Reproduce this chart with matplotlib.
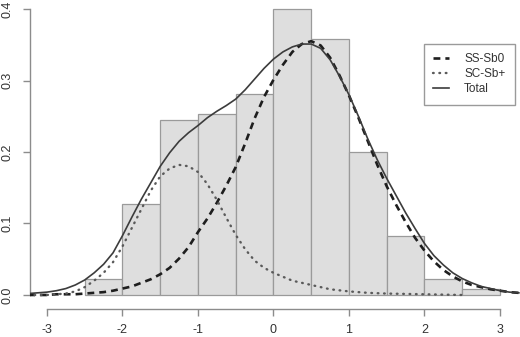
import numpy as np
import matplotlib
matplotlib.use("Agg")
import matplotlib.pyplot as plt

plt.rcParams['font.family'] = ['Liberation Sans', 'DejaVu Sans']

# histogram (bin left edges, width 0.5) -- density
bin_left = [-2.5, -2.0, -1.5, -1.0, -0.5, 0.0, 0.5, 1.0, 1.5, 2.0, 2.5]
bin_height = [0.022, 0.127, 0.245, 0.253, 0.281, 0.400, 0.358, 0.200, 0.083, 0.022, 0.008]

# curves, every 0.125
x_grid = [-3.25, -3.125, -3.0, -2.875, -2.75, -2.625, -2.5, -2.375, -2.25, -2.125,
          -2.0, -1.875, -1.75, -1.625, -1.5, -1.375, -1.25, -1.125, -1.0, -0.875,
          -0.75, -0.625, -0.5, -0.375, -0.25, -0.125, 0.0, 0.125, 0.25, 0.375,
          0.5, 0.625, 0.75, 0.875, 1.0, 1.125, 1.25, 1.375, 1.5, 1.625,
          1.75, 1.875, 2.0, 2.125, 2.25, 2.375, 2.5, 2.625, 2.75, 2.875,
          3.0, 3.125, 3.25]

y_total = [0.002, 0.003, 0.004, 0.006, 0.009, 0.014, 0.021, 0.031, 0.043, 0.059,
           0.083, 0.109, 0.134, 0.157, 0.180, 0.199, 0.215, 0.227, 0.237, 0.248,
           0.257, 0.265, 0.274, 0.287, 0.302, 0.317, 0.330, 0.340, 0.347, 0.351,
           0.351, 0.345, 0.329, 0.306, 0.280, 0.250, 0.218, 0.189, 0.163, 0.139,
           0.115, 0.093, 0.072, 0.055, 0.042, 0.031, 0.023, 0.017, 0.012, 0.009,
           0.006, 0.004, 0.003]

y_ss_sb0 = [0.000, 0.000, 0.000, 0.001, 0.001, 0.001, 0.002, 0.003, 0.004, 0.006,
            0.009, 0.012, 0.017, 0.022, 0.029, 0.038, 0.051, 0.067, 0.088, 0.107,
            0.129, 0.153, 0.179, 0.212, 0.247, 0.277, 0.301, 0.322, 0.340, 0.351,
            0.355, 0.349, 0.332, 0.307, 0.279, 0.248, 0.215, 0.182, 0.152, 0.126,
            0.102, 0.080, 0.062, 0.047, 0.035, 0.026, 0.019, 0.014, 0.011, 0.008,
            0.006, 0.004, 0.003]

x_sc = [-3.25, -3.125, -3.0, -2.875, -2.75, -2.625, -2.5, -2.375, -2.25, -2.125,
        -2.0, -1.875, -1.75, -1.625, -1.5, -1.375, -1.25, -1.125, -1.0, -0.875,
        -0.75, -0.625, -0.5, -0.375, -0.25, -0.125, 0.0, 0.25, 0.5, 0.75,
        1.0, 1.25, 1.5, 2.0, 2.5]
y_sc_sbp = [0.000, 0.000, 0.000, 0.001, 0.002, 0.005, 0.011, 0.020, 0.031, 0.046,
            0.068, 0.094, 0.120, 0.146, 0.166, 0.177, 0.182, 0.180, 0.172, 0.155,
            0.133, 0.108, 0.084, 0.064, 0.048, 0.038, 0.031, 0.020, 0.014, 0.008,
            0.005, 0.003, 0.002, 0.001, 0.000]

xticks = [-3, -2, -1, 0, 1, 2, 3]
yticks = [0.0, 0.1, 0.2, 0.3, 0.4]

fig = plt.figure(figsize=(5.2, 3.37), dpi=100)
ax = fig.add_axes([30/520, 28/337, 490/520, 309/337])
ax.set_xlim(-3.225, 3.265)
ax.set_ylim(-0.0196, 0.4126)

ax.bar(bin_left, bin_height, width=0.5, align='edge', color='#dedede',
       edgecolor='#9a9a9a', linewidth=0.9, zorder=1)

ax.plot(x_grid, y_ss_sb0, color='#1e1e1e', lw=1.9, linestyle=(0, (2.6, 1.9)),
        label='SS-Sb0', zorder=3)
ax.plot(x_sc, y_sc_sbp, color='#5a5a5a', lw=1.7, linestyle=(0, (0.3, 2.4)),
        dash_capstyle='round', label='SC-Sb+', zorder=3)
ax.plot(x_grid, y_total, color='#3c3c3c', lw=1.2, label='Total', zorder=4)

for s in ['top', 'right']:
    ax.spines[s].set_visible(False)
ax.spines['left'].set_bounds(0, 0.4)
ax.spines['bottom'].set_bounds(-3, 3)
for s in ['left', 'bottom']:
    ax.spines[s].set_color('#8c8c8c')
    ax.spines[s].set_linewidth(1.0)

ax.set_xticks(xticks)
ax.set_xticklabels([str(t) for t in xticks])
ax.set_yticks(yticks)
ax.set_yticklabels([f'{t:.1f}' for t in yticks], rotation=90, va='center')
ax.tick_params(axis='both', direction='out', length=5, width=1.0, color='#8c8c8c',
               labelsize=9, labelcolor='#333333')
ax.tick_params(axis='x', pad=6)
ax.tick_params(axis='y', pad=7)

leg = ax.legend(loc='upper left', bbox_to_anchor=(424/520, 1 - 44/337),
                bbox_transform=fig.transFigure, borderaxespad=0, fontsize=8.5,
                frameon=True, fancybox=False, framealpha=1, edgecolor='#9a9a9a',
                handlelength=1.3, handletextpad=1.3, labelspacing=0.25, borderpad=0.8)
leg.get_frame().set_linewidth(1.0)
for t in leg.get_texts():
    t.set_color('#333333')

fig.savefig('out.png', dpi=100)
